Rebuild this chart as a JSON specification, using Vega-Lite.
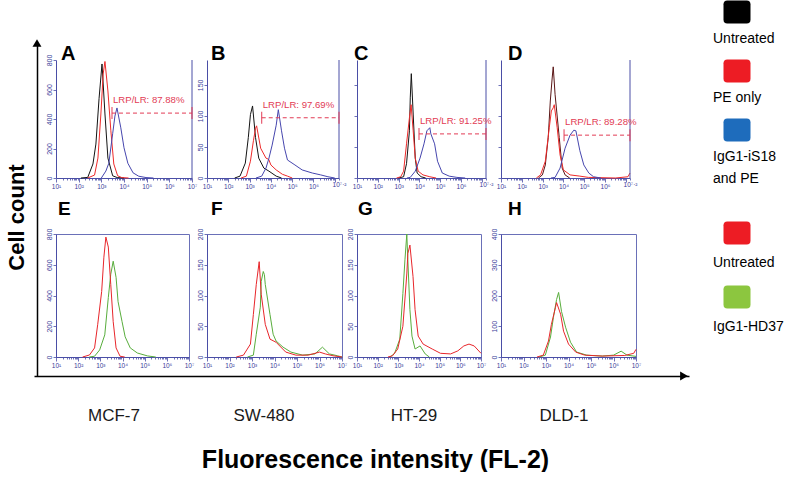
{
  "$schema": "https://vega.github.io/schema/vega-lite/v6.json",
  "background": "white",
  "padding": {"left": 5, "top": 0, "right": 5, "bottom": 0},
  "config": {
    "font": "Liberation Sans",
    "view": {"stroke": null},
    "axis": {"grid": false, "labelColor": "#3a3d9a", "domainColor": "#4a4ea6", "tickColor": "#4a4ea6", "labelFontSize": 7, "tickSize": 3, "labelPadding": 1, "domainWidth": 1, "tickWidth": 0.8, "labelOverlap": false},
    "axisX": {"labelFlush": false, "labelAngle": 0},
    "axisY": {"labelAngle": -90}
  },
  "datasets": {
    "hist": [
      {"panel":"A","series":"Untreated","fl2_log10":2.1,"count":0},{"panel":"A","series":"Untreated","fl2_log10":2.4,"count":4},{"panel":"A","series":"Untreated","fl2_log10":2.63,"count":95},{"panel":"A","series":"Untreated","fl2_log10":2.76,"count":230},{"panel":"A","series":"Untreated","fl2_log10":2.9,"count":540},{"panel":"A","series":"Untreated","fl2_log10":3.03,"count":773},{"panel":"A","series":"Untreated","fl2_log10":3.16,"count":434},{"panel":"A","series":"Untreated","fl2_log10":3.29,"count":135},{"panel":"A","series":"Untreated","fl2_log10":3.5,"count":15},{"panel":"A","series":"Untreated","fl2_log10":3.7,"count":3},{"panel":"A","series":"Untreated","fl2_log10":4.0,"count":0},
      {"panel":"A","series":"PE only","fl2_log10":2.4,"count":0},{"panel":"A","series":"PE only","fl2_log10":2.7,"count":20},{"panel":"A","series":"PE only","fl2_log10":2.85,"count":135},{"panel":"A","series":"PE only","fl2_log10":2.98,"count":434},{"panel":"A","series":"PE only","fl2_log10":3.08,"count":705},{"panel":"A","series":"PE only","fl2_log10":3.16,"count":790},{"panel":"A","series":"PE only","fl2_log10":3.29,"count":590},{"panel":"A","series":"PE only","fl2_log10":3.42,"count":320},{"panel":"A","series":"PE only","fl2_log10":3.55,"count":95},{"panel":"A","series":"PE only","fl2_log10":3.72,"count":15},{"panel":"A","series":"PE only","fl2_log10":3.9,"count":3},{"panel":"A","series":"PE only","fl2_log10":4.2,"count":0},
      {"panel":"A","series":"IgG1-iS18 and PE","fl2_log10":3.0,"count":0},{"panel":"A","series":"IgG1-iS18 and PE","fl2_log10":3.2,"count":47},{"panel":"A","series":"IgG1-iS18 and PE","fl2_log10":3.33,"count":100},{"panel":"A","series":"IgG1-iS18 and PE","fl2_log10":3.5,"count":300},{"panel":"A","series":"IgG1-iS18 and PE","fl2_log10":3.6,"count":420},{"panel":"A","series":"IgG1-iS18 and PE","fl2_log10":3.69,"count":475},{"panel":"A","series":"IgG1-iS18 and PE","fl2_log10":3.86,"count":340},{"panel":"A","series":"IgG1-iS18 and PE","fl2_log10":4.0,"count":205},{"panel":"A","series":"IgG1-iS18 and PE","fl2_log10":4.17,"count":100},{"panel":"A","series":"IgG1-iS18 and PE","fl2_log10":4.4,"count":35},{"panel":"A","series":"IgG1-iS18 and PE","fl2_log10":4.65,"count":12},{"panel":"A","series":"IgG1-iS18 and PE","fl2_log10":4.97,"count":3},{"panel":"A","series":"IgG1-iS18 and PE","fl2_log10":5.3,"count":0},
      {"panel":"B","series":"Untreated","fl2_log10":2.3,"count":0},{"panel":"B","series":"Untreated","fl2_log10":2.55,"count":3},{"panel":"B","series":"Untreated","fl2_log10":2.8,"count":24},{"panel":"B","series":"Untreated","fl2_log10":2.94,"count":65},{"panel":"B","series":"Untreated","fl2_log10":3.04,"count":102},{"panel":"B","series":"Untreated","fl2_log10":3.14,"count":116},{"panel":"B","series":"Untreated","fl2_log10":3.28,"count":65},{"panel":"B","series":"Untreated","fl2_log10":3.43,"count":32},{"panel":"B","series":"Untreated","fl2_log10":3.67,"count":16},{"panel":"B","series":"Untreated","fl2_log10":3.91,"count":11},{"panel":"B","series":"Untreated","fl2_log10":4.25,"count":3},{"panel":"B","series":"Untreated","fl2_log10":4.5,"count":0},
      {"panel":"B","series":"PE only","fl2_log10":2.6,"count":0},{"panel":"B","series":"PE only","fl2_log10":2.85,"count":3},{"panel":"B","series":"PE only","fl2_log10":3.04,"count":27},{"panel":"B","series":"PE only","fl2_log10":3.18,"count":60},{"panel":"B","series":"PE only","fl2_log10":3.28,"count":80},{"panel":"B","series":"PE only","fl2_log10":3.33,"count":84},{"panel":"B","series":"PE only","fl2_log10":3.52,"count":48},{"panel":"B","series":"PE only","fl2_log10":3.77,"count":32},{"panel":"B","series":"PE only","fl2_log10":3.9,"count":30},{"panel":"B","series":"PE only","fl2_log10":4.0,"count":21},{"panel":"B","series":"PE only","fl2_log10":4.25,"count":13},{"panel":"B","series":"PE only","fl2_log10":4.54,"count":6},{"panel":"B","series":"PE only","fl2_log10":4.78,"count":3},{"panel":"B","series":"PE only","fl2_log10":5.0,"count":0},
      {"panel":"B","series":"IgG1-iS18 and PE","fl2_log10":3.3,"count":0},{"panel":"B","series":"IgG1-iS18 and PE","fl2_log10":3.57,"count":3},{"panel":"B","series":"IgG1-iS18 and PE","fl2_log10":3.77,"count":16},{"panel":"B","series":"IgG1-iS18 and PE","fl2_log10":3.91,"count":32},{"panel":"B","series":"IgG1-iS18 and PE","fl2_log10":4.06,"count":53},{"panel":"B","series":"IgG1-iS18 and PE","fl2_log10":4.25,"count":85},{"panel":"B","series":"IgG1-iS18 and PE","fl2_log10":4.35,"count":110},{"panel":"B","series":"IgG1-iS18 and PE","fl2_log10":4.5,"count":76},{"panel":"B","series":"IgG1-iS18 and PE","fl2_log10":4.64,"count":48},{"panel":"B","series":"IgG1-iS18 and PE","fl2_log10":4.78,"count":29},{"panel":"B","series":"IgG1-iS18 and PE","fl2_log10":5.13,"count":21},{"panel":"B","series":"IgG1-iS18 and PE","fl2_log10":5.47,"count":13},{"panel":"B","series":"IgG1-iS18 and PE","fl2_log10":5.95,"count":8},{"panel":"B","series":"IgG1-iS18 and PE","fl2_log10":6.34,"count":5},{"panel":"B","series":"IgG1-iS18 and PE","fl2_log10":6.68,"count":2},{"panel":"B","series":"IgG1-iS18 and PE","fl2_log10":7.0,"count":0},
      {"panel":"C","series":"Untreated","fl2_log10":3.0,"count":0},{"panel":"C","series":"Untreated","fl2_log10":3.24,"count":2},{"panel":"C","series":"Untreated","fl2_log10":3.38,"count":23},{"panel":"C","series":"Untreated","fl2_log10":3.52,"count":76},{"panel":"C","series":"Untreated","fl2_log10":3.56,"count":129},{"panel":"C","series":"Untreated","fl2_log10":3.61,"count":168},{"panel":"C","series":"Untreated","fl2_log10":3.7,"count":103},{"panel":"C","series":"Untreated","fl2_log10":3.8,"count":32},{"panel":"C","series":"Untreated","fl2_log10":3.89,"count":8},{"panel":"C","series":"Untreated","fl2_log10":4.08,"count":2},{"panel":"C","series":"Untreated","fl2_log10":4.3,"count":0},
      {"panel":"C","series":"PE only","fl2_log10":2.9,"count":0},{"panel":"C","series":"PE only","fl2_log10":3.1,"count":2},{"panel":"C","series":"PE only","fl2_log10":3.24,"count":11},{"panel":"C","series":"PE only","fl2_log10":3.38,"count":55},{"panel":"C","series":"PE only","fl2_log10":3.52,"count":97},{"panel":"C","series":"PE only","fl2_log10":3.6,"count":118},{"panel":"C","series":"PE only","fl2_log10":3.7,"count":76},{"panel":"C","series":"PE only","fl2_log10":3.8,"count":32},{"panel":"C","series":"PE only","fl2_log10":3.94,"count":11},{"panel":"C","series":"PE only","fl2_log10":4.17,"count":5},{"panel":"C","series":"PE only","fl2_log10":4.5,"count":2},{"panel":"C","series":"PE only","fl2_log10":4.8,"count":0},
      {"panel":"C","series":"IgG1-iS18 and PE","fl2_log10":3.4,"count":0},{"panel":"C","series":"IgG1-iS18 and PE","fl2_log10":3.56,"count":1},{"panel":"C","series":"IgG1-iS18 and PE","fl2_log10":3.8,"count":11},{"panel":"C","series":"IgG1-iS18 and PE","fl2_log10":4.03,"count":32},{"panel":"C","series":"IgG1-iS18 and PE","fl2_log10":4.22,"count":55},{"panel":"C","series":"IgG1-iS18 and PE","fl2_log10":4.36,"count":76},{"panel":"C","series":"IgG1-iS18 and PE","fl2_log10":4.5,"count":81},{"panel":"C","series":"IgG1-iS18 and PE","fl2_log10":4.55,"count":71},{"panel":"C","series":"IgG1-iS18 and PE","fl2_log10":4.73,"count":55},{"panel":"C","series":"IgG1-iS18 and PE","fl2_log10":4.87,"count":27},{"panel":"C","series":"IgG1-iS18 and PE","fl2_log10":5.1,"count":8},{"panel":"C","series":"IgG1-iS18 and PE","fl2_log10":5.43,"count":3},{"panel":"C","series":"IgG1-iS18 and PE","fl2_log10":5.8,"count":1},{"panel":"C","series":"IgG1-iS18 and PE","fl2_log10":6.2,"count":0},
      {"panel":"D","series":"Untreated","fl2_log10":2.8,"count":0},{"panel":"D","series":"Untreated","fl2_log10":2.99,"count":5},{"panel":"D","series":"Untreated","fl2_log10":3.13,"count":21},{"panel":"D","series":"Untreated","fl2_log10":3.27,"count":65},{"panel":"D","series":"Untreated","fl2_log10":3.37,"count":124},{"panel":"D","series":"Untreated","fl2_log10":3.46,"count":161},{"panel":"D","series":"Untreated","fl2_log10":3.51,"count":179},{"panel":"D","series":"Untreated","fl2_log10":3.6,"count":134},{"panel":"D","series":"Untreated","fl2_log10":3.8,"count":65},{"panel":"D","series":"Untreated","fl2_log10":3.94,"count":16},{"panel":"D","series":"Untreated","fl2_log10":4.08,"count":5},{"panel":"D","series":"Untreated","fl2_log10":4.3,"count":0},
      {"panel":"D","series":"PE only","fl2_log10":2.7,"count":0},{"panel":"D","series":"PE only","fl2_log10":2.9,"count":5},{"panel":"D","series":"PE only","fl2_log10":3.13,"count":27},{"panel":"D","series":"PE only","fl2_log10":3.32,"count":81},{"panel":"D","series":"PE only","fl2_log10":3.42,"count":108},{"panel":"D","series":"PE only","fl2_log10":3.51,"count":113},{"panel":"D","series":"PE only","fl2_log10":3.56,"count":118},{"panel":"D","series":"PE only","fl2_log10":3.7,"count":81},{"panel":"D","series":"PE only","fl2_log10":3.84,"count":37},{"panel":"D","series":"PE only","fl2_log10":4.0,"count":13},{"panel":"D","series":"PE only","fl2_log10":4.32,"count":5},{"panel":"D","series":"PE only","fl2_log10":4.79,"count":3},{"panel":"D","series":"PE only","fl2_log10":5.2,"count":1},{"panel":"D","series":"PE only","fl2_log10":6.5,"count":0},{"panel":"D","series":"PE only","fl2_log10":7.1,"count":2},{"panel":"D","series":"PE only","fl2_log10":7.2,"count":8},
      {"panel":"D","series":"IgG1-iS18 and PE","fl2_log10":3.4,"count":0},{"panel":"D","series":"IgG1-iS18 and PE","fl2_log10":3.6,"count":1},{"panel":"D","series":"IgG1-iS18 and PE","fl2_log10":3.84,"count":16},{"panel":"D","series":"IgG1-iS18 and PE","fl2_log10":4.08,"count":48},{"panel":"D","series":"IgG1-iS18 and PE","fl2_log10":4.32,"count":69},{"panel":"D","series":"IgG1-iS18 and PE","fl2_log10":4.5,"count":77},{"panel":"D","series":"IgG1-iS18 and PE","fl2_log10":4.6,"count":76},{"panel":"D","series":"IgG1-iS18 and PE","fl2_log10":4.79,"count":44},{"panel":"D","series":"IgG1-iS18 and PE","fl2_log10":4.98,"count":21},{"panel":"D","series":"IgG1-iS18 and PE","fl2_log10":5.22,"count":8},{"panel":"D","series":"IgG1-iS18 and PE","fl2_log10":5.45,"count":2},{"panel":"D","series":"IgG1-iS18 and PE","fl2_log10":5.8,"count":0},
      {"panel":"E","series":"IgG1-HD37","fl2_log10":2.5,"count":0},{"panel":"E","series":"IgG1-HD37","fl2_log10":2.74,"count":5},{"panel":"E","series":"IgG1-HD37","fl2_log10":2.97,"count":46},{"panel":"E","series":"IgG1-HD37","fl2_log10":3.2,"count":144},{"panel":"E","series":"IgG1-HD37","fl2_log10":3.36,"count":387},{"panel":"E","series":"IgG1-HD37","fl2_log10":3.47,"count":538},{"panel":"E","series":"IgG1-HD37","fl2_log10":3.58,"count":623},{"panel":"E","series":"IgG1-HD37","fl2_log10":3.71,"count":518},{"panel":"E","series":"IgG1-HD37","fl2_log10":3.8,"count":360},{"panel":"E","series":"IgG1-HD37","fl2_log10":3.98,"count":230},{"panel":"E","series":"IgG1-HD37","fl2_log10":4.12,"count":131},{"panel":"E","series":"IgG1-HD37","fl2_log10":4.35,"count":59},{"panel":"E","series":"IgG1-HD37","fl2_log10":4.67,"count":26},{"panel":"E","series":"IgG1-HD37","fl2_log10":5.13,"count":7},{"panel":"E","series":"IgG1-HD37","fl2_log10":5.5,"count":0},
      {"panel":"E","series":"Untreated (E-H)","fl2_log10":2.2,"count":0},{"panel":"E","series":"Untreated (E-H)","fl2_log10":2.51,"count":13},{"panel":"E","series":"Untreated (E-H)","fl2_log10":2.74,"count":59},{"panel":"E","series":"Untreated (E-H)","fl2_log10":2.88,"count":210},{"panel":"E","series":"Untreated (E-H)","fl2_log10":3.06,"count":426},{"panel":"E","series":"Untreated (E-H)","fl2_log10":3.16,"count":649},{"panel":"E","series":"Untreated (E-H)","fl2_log10":3.25,"count":780},{"panel":"E","series":"Untreated (E-H)","fl2_log10":3.36,"count":715},{"panel":"E","series":"Untreated (E-H)","fl2_log10":3.47,"count":472},{"panel":"E","series":"Untreated (E-H)","fl2_log10":3.58,"count":230},{"panel":"E","series":"Untreated (E-H)","fl2_log10":3.71,"count":59},{"panel":"E","series":"Untreated (E-H)","fl2_log10":3.89,"count":5},{"panel":"E","series":"Untreated (E-H)","fl2_log10":4.1,"count":0},
      {"panel":"F","series":"IgG1-HD37","fl2_log10":2.8,"count":0},{"panel":"F","series":"IgG1-HD37","fl2_log10":3.06,"count":3},{"panel":"F","series":"IgG1-HD37","fl2_log10":3.19,"count":37},{"panel":"F","series":"IgG1-HD37","fl2_log10":3.37,"count":81},{"panel":"F","series":"IgG1-HD37","fl2_log10":3.41,"count":123},{"panel":"F","series":"IgG1-HD37","fl2_log10":3.5,"count":139},{"panel":"F","series":"IgG1-HD37","fl2_log10":3.55,"count":134},{"panel":"F","series":"IgG1-HD37","fl2_log10":3.59,"count":118},{"panel":"F","series":"IgG1-HD37","fl2_log10":3.8,"count":69},{"panel":"F","series":"IgG1-HD37","fl2_log10":3.94,"count":37},{"panel":"F","series":"IgG1-HD37","fl2_log10":4.07,"count":26},{"panel":"F","series":"IgG1-HD37","fl2_log10":4.38,"count":16},{"panel":"F","series":"IgG1-HD37","fl2_log10":4.73,"count":8},{"panel":"F","series":"IgG1-HD37","fl2_log10":5.25,"count":3},{"panel":"F","series":"IgG1-HD37","fl2_log10":5.8,"count":5},{"panel":"F","series":"IgG1-HD37","fl2_log10":6.13,"count":16},{"panel":"F","series":"IgG1-HD37","fl2_log10":6.44,"count":5},{"panel":"F","series":"IgG1-HD37","fl2_log10":6.8,"count":2},{"panel":"F","series":"IgG1-HD37","fl2_log10":7.0,"count":0},
      {"panel":"F","series":"Untreated (E-H)","fl2_log10":2.3,"count":0},{"panel":"F","series":"Untreated (E-H)","fl2_log10":2.62,"count":3},{"panel":"F","series":"Untreated (E-H)","fl2_log10":2.93,"count":21},{"panel":"F","series":"Untreated (E-H)","fl2_log10":3.06,"count":69},{"panel":"F","series":"Untreated (E-H)","fl2_log10":3.19,"count":118},{"panel":"F","series":"Untreated (E-H)","fl2_log10":3.32,"count":155},{"panel":"F","series":"Untreated (E-H)","fl2_log10":3.41,"count":102},{"panel":"F","series":"Untreated (E-H)","fl2_log10":3.59,"count":53},{"panel":"F","series":"Untreated (E-H)","fl2_log10":3.8,"count":29},{"panel":"F","series":"Untreated (E-H)","fl2_log10":4.07,"count":24},{"panel":"F","series":"Untreated (E-H)","fl2_log10":4.5,"count":8},{"panel":"F","series":"Untreated (E-H)","fl2_log10":4.95,"count":3},{"panel":"F","series":"Untreated (E-H)","fl2_log10":5.5,"count":3},{"panel":"F","series":"Untreated (E-H)","fl2_log10":6.0,"count":8},{"panel":"F","series":"Untreated (E-H)","fl2_log10":6.26,"count":5},{"panel":"F","series":"Untreated (E-H)","fl2_log10":6.6,"count":2},{"panel":"F","series":"Untreated (E-H)","fl2_log10":7.0,"count":0},
      {"panel":"G","series":"IgG1-HD37","fl2_log10":2.6,"count":0},{"panel":"G","series":"IgG1-HD37","fl2_log10":2.82,"count":6},{"panel":"G","series":"IgG1-HD37","fl2_log10":3.07,"count":29},{"panel":"G","series":"IgG1-HD37","fl2_log10":3.22,"count":103},{"panel":"G","series":"IgG1-HD37","fl2_log10":3.32,"count":158},{"panel":"G","series":"IgG1-HD37","fl2_log10":3.41,"count":200},{"panel":"G","series":"IgG1-HD37","fl2_log10":3.46,"count":158},{"panel":"G","series":"IgG1-HD37","fl2_log10":3.56,"count":77},{"panel":"G","series":"IgG1-HD37","fl2_log10":3.66,"count":34},{"panel":"G","series":"IgG1-HD37","fl2_log10":3.81,"count":13},{"panel":"G","series":"IgG1-HD37","fl2_log10":4.05,"count":18},{"panel":"G","series":"IgG1-HD37","fl2_log10":4.3,"count":5},{"panel":"G","series":"IgG1-HD37","fl2_log10":4.5,"count":0},
      {"panel":"G","series":"Untreated (E-H)","fl2_log10":2.5,"count":0},{"panel":"G","series":"Untreated (E-H)","fl2_log10":2.72,"count":2},{"panel":"G","series":"Untreated (E-H)","fl2_log10":2.97,"count":13},{"panel":"G","series":"Untreated (E-H)","fl2_log10":3.22,"count":50},{"panel":"G","series":"Untreated (E-H)","fl2_log10":3.41,"count":135},{"panel":"G","series":"Untreated (E-H)","fl2_log10":3.46,"count":168},{"panel":"G","series":"Untreated (E-H)","fl2_log10":3.56,"count":182},{"panel":"G","series":"Untreated (E-H)","fl2_log10":3.71,"count":131},{"panel":"G","series":"Untreated (E-H)","fl2_log10":3.81,"count":77},{"panel":"G","series":"Untreated (E-H)","fl2_log10":3.96,"count":34},{"panel":"G","series":"Untreated (E-H)","fl2_log10":4.2,"count":21},{"panel":"G","series":"Untreated (E-H)","fl2_log10":4.64,"count":13},{"panel":"G","series":"Untreated (E-H)","fl2_log10":5.04,"count":6},{"panel":"G","series":"Untreated (E-H)","fl2_log10":5.53,"count":5},{"panel":"G","series":"Untreated (E-H)","fl2_log10":5.88,"count":10},{"panel":"G","series":"Untreated (E-H)","fl2_log10":6.17,"count":18},{"panel":"G","series":"Untreated (E-H)","fl2_log10":6.42,"count":21},{"panel":"G","series":"Untreated (E-H)","fl2_log10":6.67,"count":18},{"panel":"G","series":"Untreated (E-H)","fl2_log10":7.0,"count":6},
      {"panel":"H","series":"IgG1-HD37","fl2_log10":2.7,"count":0},{"panel":"H","series":"IgG1-HD37","fl2_log10":2.97,"count":6},{"panel":"H","series":"IgG1-HD37","fl2_log10":3.2,"count":65},{"panel":"H","series":"IgG1-HD37","fl2_log10":3.33,"count":129},{"panel":"H","series":"IgG1-HD37","fl2_log10":3.47,"count":187},{"panel":"H","series":"IgG1-HD37","fl2_log10":3.56,"count":210},{"panel":"H","series":"IgG1-HD37","fl2_log10":3.69,"count":148},{"panel":"H","series":"IgG1-HD37","fl2_log10":3.87,"count":97},{"panel":"H","series":"IgG1-HD37","fl2_log10":4.09,"count":48},{"panel":"H","series":"IgG1-HD37","fl2_log10":4.36,"count":16},{"panel":"H","series":"IgG1-HD37","fl2_log10":4.81,"count":6},{"panel":"H","series":"IgG1-HD37","fl2_log10":5.5,"count":3},{"panel":"H","series":"IgG1-HD37","fl2_log10":6.0,"count":6},{"panel":"H","series":"IgG1-HD37","fl2_log10":6.34,"count":19},{"panel":"H","series":"IgG1-HD37","fl2_log10":6.6,"count":6},{"panel":"H","series":"IgG1-HD37","fl2_log10":7.0,"count":2},
      {"panel":"H","series":"Untreated (E-H)","fl2_log10":2.6,"count":0},{"panel":"H","series":"Untreated (E-H)","fl2_log10":2.88,"count":6},{"panel":"H","series":"Untreated (E-H)","fl2_log10":3.11,"count":52},{"panel":"H","series":"Untreated (E-H)","fl2_log10":3.24,"count":106},{"panel":"H","series":"Untreated (E-H)","fl2_log10":3.42,"count":161},{"panel":"H","series":"Untreated (E-H)","fl2_log10":3.47,"count":177},{"panel":"H","series":"Untreated (E-H)","fl2_log10":3.65,"count":139},{"panel":"H","series":"Untreated (E-H)","fl2_log10":3.78,"count":84},{"panel":"H","series":"Untreated (E-H)","fl2_log10":4.0,"count":42},{"panel":"H","series":"Untreated (E-H)","fl2_log10":4.32,"count":16},{"panel":"H","series":"Untreated (E-H)","fl2_log10":4.72,"count":6},{"panel":"H","series":"Untreated (E-H)","fl2_log10":5.5,"count":3},{"panel":"H","series":"Untreated (E-H)","fl2_log10":6.5,"count":5},{"panel":"H","series":"Untreated (E-H)","fl2_log10":6.9,"count":12},{"panel":"H","series":"Untreated (E-H)","fl2_log10":7.0,"count":25}
    ],
    "gates": [
      {"panel":"A","end":"start","fl2_log10":3.47,"count":440,"label":"LRP/LR: 87.88%"},{"panel":"A","end":"end","fl2_log10":7,"count":440},
      {"panel":"B","end":"start","fl2_log10":3.57,"count":97,"label":"LRP/LR: 97.69%"},{"panel":"B","end":"end","fl2_log10":7.2,"count":97},
      {"panel":"C","end":"start","fl2_log10":3.98,"count":71,"label":"LRP/LR: 91.25%"},{"panel":"C","end":"end","fl2_log10":7.2,"count":71},
      {"panel":"D","end":"start","fl2_log10":4.03,"count":69,"label":"LRP/LR: 89.28%"},{"panel":"D","end":"end","fl2_log10":7.2,"count":69}
    ],
    "cells": [{"cell_line":"MCF-7","panels":"A, E"},{"cell_line":"SW-480","panels":"B, F"},{"cell_line":"HT-29","panels":"C, G"},{"cell_line":"DLD-1","panels":"D, H"}],
    "legend": [
      {"group":"top","series":"Untreated","label":"Untreated"},
      {"group":"top","series":"PE only","label":"PE only"},
      {"group":"top","series":"IgG1-iS18 and PE","label":"IgG1-iS18\nand PE"},
      {"group":"bottom","series":"Untreated (E-H)","label":"Untreated"},
      {"group":"bottom","series":"IgG1-HD37","label":"IgG1-HD37"}
    ]
  },
  "columns": 6,
  "spacing": {"row": 56, "column": 15},
  "bounds": "flush",
  "align": {"row": "each", "column": "each"},
  "resolve": {"scale": {"color": "independent"}},
  "concat": [
    {
      "width": 1, "height": 118,
      "data": {"values": [{"axis": "Cell count"}]},
      "layer": [
        {"mark": {"type": "point", "shape": "triangle-up", "filled": true, "color": "#000000", "size": 80, "opacity": 1},
         "encoding": {
           "x": {"datum": 0, "type": "quantitative", "scale": {"domain": [0, 1], "range": [-3, 644]}, "axis": null},
           "y": {"datum": 1, "type": "quantitative", "scale": {"domain": [0, 1], "range": [316, -17]}, "axis": {"orient": "left", "offset": 3, "labels": false, "ticks": false, "domainColor": "#000000", "domainWidth": 1.5, "title": "Cell count", "titleFontSize": 22, "titleFontWeight": "bold", "titleColor": "#000000", "titlePadding": 9, "titleY": 157}}}},
        {"mark": {"type": "point", "shape": "triangle-right", "filled": true, "color": "#000000", "size": 80, "opacity": 1},
         "encoding": {
           "x": {"datum": 1, "type": "quantitative", "axis": null},
           "y": {"datum": 0, "type": "quantitative"}}}
      ]
    },
    {
      "width": 136, "height": 118,
      "title": {"text": "A", "anchor": "start", "frame": "group", "fontSize": 20, "fontWeight": "bold", "color": "#000000", "baseline": "alphabetic", "offset": -26, "dx": 5},
      "encoding": {
        "x": {"field": "fl2_log10", "type": "quantitative", "title": null, "scale": {"domain": [1, 7], "nice": false, "zero": false}, "axis": {"values": [1,1.301,1.477,1.602,1.699,1.778,1.845,1.903,1.954,2,2.301,2.477,2.602,2.699,2.778,2.845,2.903,2.954,3,3.301,3.477,3.602,3.699,3.778,3.845,3.903,3.954,4,4.301,4.477,4.602,4.699,4.778,4.845,4.903,4.954,5,5.301,5.477,5.602,5.699,5.778,5.845,5.903,5.954,6,6.301,6.477,6.602,6.699,6.778,6.845,6.903,6.954,7], "labelExpr": "datum.value % 1 === 0 ? '10' + ['','¹','²','³','⁴','⁵','⁶','⁷'][datum.value] : ''", "tickSize": {"condition": {"test": "datum.value % 1 === 0", "value": 4}, "value": 2}, "labelFontSize": 6.5, "labelOverlap": false, "labelFlush": false}},
        "y": {"field": "count", "type": "quantitative", "title": null, "scale": {"domain": [0, 800], "nice": false}, "axis": {"values": [0, 200, 400, 600, 800], "labelOverlap": false}}
      },
      "layer": [
        {"data": {"name": "hist"}, "transform": [{"filter": "datum.panel === 'A'"}], "mark": {"type": "line", "strokeWidth": 1},
         "encoding": {"color": {"field": "series", "type": "nominal", "scale": {"domain": ["Untreated", "PE only", "IgG1-iS18 and PE", "Untreated (E-H)", "IgG1-HD37"], "range": ["#141414", "#ee2a2a", "#4646ae", "#e8262b", "#58ad3c"]}, "legend": null}}},
        {"data": {"name": "gates"}, "transform": [{"filter": "datum.panel === 'A' && datum.end === 'end'"}], "mark": {"type": "rule", "color": "#4a4ea6", "strokeWidth": 1},
         "encoding": {"y": {"datum": 0, "type": "quantitative", "title": null, "axis": {"values": [0, 200, 400, 600, 800], "labelOverlap": false}}, "y2": {"datum": 800}}},
        {"data": {"name": "gates"}, "transform": [{"filter": "datum.panel === 'A'"}], "mark": {"type": "line", "color": "#e23b55", "strokeDash": [4, 3], "strokeWidth": 1}},
        {"data": {"name": "gates"}, "transform": [{"filter": "datum.panel === 'A'"}], "mark": {"type": "tick", "orient": "vertical", "size": 12, "thickness": 1, "color": "#e23b55", "opacity": 1}},
        {"data": {"name": "gates"}, "transform": [{"filter": "datum.panel === 'A' && datum.end === 'start'"}], "mark": {"type": "text", "align": "left", "baseline": "middle", "dx": 1, "dy": -13, "fontSize": 9.6, "color": "#e23b55"}, "encoding": {"text": {"field": "label", "type": "nominal"}}}
      ]
    },
    {
      "width": 132, "height": 118,
      "title": {"text": "B", "anchor": "start", "frame": "group", "fontSize": 20, "fontWeight": "bold", "color": "#000000", "baseline": "alphabetic", "offset": -20, "dx": 4},
      "encoding": {
        "x": {"field": "fl2_log10", "type": "quantitative", "title": null, "scale": {"domain": [1, 7.2], "nice": false, "zero": false}, "axis": {"values": [1,1.301,1.477,1.602,1.699,1.778,1.845,1.903,1.954,2,2.301,2.477,2.602,2.699,2.778,2.845,2.903,2.954,3,3.301,3.477,3.602,3.699,3.778,3.845,3.903,3.954,4,4.301,4.477,4.602,4.699,4.778,4.845,4.903,4.954,5,5.301,5.477,5.602,5.699,5.778,5.845,5.903,5.954,6,6.301,6.477,6.602,6.699,6.778,6.845,6.903,6.954,7,7.2], "labelExpr": "datum.value === 7.2 ? '10⁷·²' : (datum.value % 1 === 0 && datum.value < 7 ? '10' + ['','¹','²','³','⁴','⁵','⁶'][datum.value] : '')", "tickSize": {"condition": {"test": "datum.value % 1 === 0", "value": 4}, "value": 2}, "labelFontSize": 6.5, "labelOverlap": false, "labelFlush": false}},
        "y": {"field": "count", "type": "quantitative", "title": null, "scale": {"domain": [0, 190], "nice": false}, "axis": {"values": [0, 50, 100, 150], "labelOverlap": false}}
      },
      "layer": [
        {"data": {"name": "hist"}, "transform": [{"filter": "datum.panel === 'B'"}], "mark": {"type": "line", "strokeWidth": 1},
         "encoding": {"color": {"field": "series", "type": "nominal", "scale": {"domain": ["Untreated", "PE only", "IgG1-iS18 and PE", "Untreated (E-H)", "IgG1-HD37"], "range": ["#141414", "#ee2a2a", "#4646ae", "#e8262b", "#58ad3c"]}, "legend": null}}},
        {"data": {"name": "gates"}, "transform": [{"filter": "datum.panel === 'B' && datum.end === 'end'"}], "mark": {"type": "rule", "color": "#4a4ea6", "strokeWidth": 1},
         "encoding": {"y": {"datum": 0, "type": "quantitative", "title": null, "axis": {"values": [0, 50, 100, 150], "labelOverlap": false}}, "y2": {"datum": 190}}},
        {"data": {"name": "gates"}, "transform": [{"filter": "datum.panel === 'B'"}], "mark": {"type": "line", "color": "#e23b55", "strokeDash": [4, 3], "strokeWidth": 1}},
        {"data": {"name": "gates"}, "transform": [{"filter": "datum.panel === 'B'"}], "mark": {"type": "tick", "orient": "vertical", "size": 12, "thickness": 1, "color": "#e23b55", "opacity": 1}},
        {"data": {"name": "gates"}, "transform": [{"filter": "datum.panel === 'B' && datum.end === 'start'"}], "mark": {"type": "text", "align": "left", "baseline": "middle", "dx": 1, "dy": -13, "fontSize": 9.6, "color": "#e23b55"}, "encoding": {"text": {"field": "label", "type": "nominal"}}}
      ]
    },
    {
      "width": 129, "height": 118,
      "title": {"text": "C", "anchor": "start", "frame": "group", "fontSize": 20, "fontWeight": "bold", "color": "#000000", "baseline": "alphabetic", "offset": -20, "dx": -3},
      "encoding": {
        "x": {"field": "fl2_log10", "type": "quantitative", "title": null, "scale": {"domain": [1, 7.2], "nice": false, "zero": false}, "axis": {"values": [1,1.301,1.477,1.602,1.699,1.778,1.845,1.903,1.954,2,2.301,2.477,2.602,2.699,2.778,2.845,2.903,2.954,3,3.301,3.477,3.602,3.699,3.778,3.845,3.903,3.954,4,4.301,4.477,4.602,4.699,4.778,4.845,4.903,4.954,5,5.301,5.477,5.602,5.699,5.778,5.845,5.903,5.954,6,6.301,6.477,6.602,6.699,6.778,6.845,6.903,6.954,7,7.2], "labelExpr": "datum.value === 7.2 ? '10⁷·²' : (datum.value % 1 === 0 && datum.value < 7 ? '10' + ['','¹','²','³','⁴','⁵','⁶'][datum.value] : '')", "tickSize": {"condition": {"test": "datum.value % 1 === 0", "value": 4}, "value": 2}, "labelFontSize": 6.5, "labelOverlap": false, "labelFlush": false}},
        "y": {"field": "count", "type": "quantitative", "title": null, "scale": {"domain": [0, 190], "nice": false}, "axis": {"values": [0, 50, 100, 150], "labels": false}}
      },
      "layer": [
        {"data": {"name": "hist"}, "transform": [{"filter": "datum.panel === 'C'"}], "mark": {"type": "line", "strokeWidth": 1},
         "encoding": {"color": {"field": "series", "type": "nominal", "scale": {"domain": ["Untreated", "PE only", "IgG1-iS18 and PE", "Untreated (E-H)", "IgG1-HD37"], "range": ["#141414", "#ee2a2a", "#4646ae", "#e8262b", "#58ad3c"]}, "legend": null}}},
        {"data": {"name": "gates"}, "transform": [{"filter": "datum.panel === 'C' && datum.end === 'end'"}], "mark": {"type": "rule", "color": "#4a4ea6", "strokeWidth": 1},
         "encoding": {"y": {"datum": 0, "type": "quantitative", "title": null, "axis": {"values": [0, 50, 100, 150], "labels": false}}, "y2": {"datum": 190}}},
        {"data": {"name": "gates"}, "transform": [{"filter": "datum.panel === 'C'"}], "mark": {"type": "line", "color": "#e23b55", "strokeDash": [4, 3], "strokeWidth": 1}},
        {"data": {"name": "gates"}, "transform": [{"filter": "datum.panel === 'C'"}], "mark": {"type": "tick", "orient": "vertical", "size": 12, "thickness": 1, "color": "#e23b55", "opacity": 1}},
        {"data": {"name": "gates"}, "transform": [{"filter": "datum.panel === 'C' && datum.end === 'start'"}], "mark": {"type": "text", "align": "left", "baseline": "middle", "dx": 1, "dy": -13, "fontSize": 9.6, "color": "#e23b55"}, "encoding": {"text": {"field": "label", "type": "nominal"}}}
      ]
    },
    {
      "width": 129, "height": 118,
      "title": {"text": "D", "anchor": "start", "frame": "group", "fontSize": 20, "fontWeight": "bold", "color": "#000000", "baseline": "alphabetic", "offset": -20, "dx": 7},
      "encoding": {
        "x": {"field": "fl2_log10", "type": "quantitative", "title": null, "scale": {"domain": [1, 7.2], "nice": false, "zero": false}, "axis": {"values": [1,1.301,1.477,1.602,1.699,1.778,1.845,1.903,1.954,2,2.301,2.477,2.602,2.699,2.778,2.845,2.903,2.954,3,3.301,3.477,3.602,3.699,3.778,3.845,3.903,3.954,4,4.301,4.477,4.602,4.699,4.778,4.845,4.903,4.954,5,5.301,5.477,5.602,5.699,5.778,5.845,5.903,5.954,6,6.301,6.477,6.602,6.699,6.778,6.845,6.903,6.954,7,7.2], "labelExpr": "datum.value === 7.2 ? '10⁷·²' : (datum.value % 1 === 0 && datum.value < 7 ? '10' + ['','¹','²','³','⁴','⁵','⁶'][datum.value] : '')", "tickSize": {"condition": {"test": "datum.value % 1 === 0", "value": 4}, "value": 2}, "labelFontSize": 6.5, "labelOverlap": false, "labelFlush": false}},
        "y": {"field": "count", "type": "quantitative", "title": null, "scale": {"domain": [0, 190], "nice": false}, "axis": {"values": [0, 50, 100, 150], "labels": false}}
      },
      "layer": [
        {"data": {"name": "hist"}, "transform": [{"filter": "datum.panel === 'D'"}], "mark": {"type": "line", "strokeWidth": 1},
         "encoding": {"color": {"field": "series", "type": "nominal", "scale": {"domain": ["Untreated", "PE only", "IgG1-iS18 and PE", "Untreated (E-H)", "IgG1-HD37"], "range": ["#5a1515", "#ee2a2a", "#4646ae", "#e8262b", "#58ad3c"]}, "legend": null}}},
        {"data": {"name": "gates"}, "transform": [{"filter": "datum.panel === 'D' && datum.end === 'end'"}], "mark": {"type": "rule", "color": "#4a4ea6", "strokeWidth": 1},
         "encoding": {"y": {"datum": 0, "type": "quantitative", "title": null, "axis": {"values": [0, 50, 100, 150], "labels": false}}, "y2": {"datum": 190}}},
        {"data": {"name": "gates"}, "transform": [{"filter": "datum.panel === 'D'"}], "mark": {"type": "line", "color": "#e23b55", "strokeDash": [4, 3], "strokeWidth": 1}},
        {"data": {"name": "gates"}, "transform": [{"filter": "datum.panel === 'D'"}], "mark": {"type": "tick", "orient": "vertical", "size": 12, "thickness": 1, "color": "#e23b55", "opacity": 1}},
        {"data": {"name": "gates"}, "transform": [{"filter": "datum.panel === 'D' && datum.end === 'start'"}], "mark": {"type": "text", "align": "left", "baseline": "middle", "dx": 1, "dy": -13, "fontSize": 9.6, "color": "#e23b55"}, "encoding": {"text": {"field": "label", "type": "nominal"}}}
      ]
    },
    {
      "width": 128, "height": 118,
      "data": {"name": "legend"},
      "layer": [
        {"transform": [{"filter": "datum.group === 'top'"}],
         "encoding": {"y": {"field": "label", "type": "ordinal", "sort": null, "scale": {"type": "point", "range": [-48, 70], "padding": 0}, "axis": null}},
         "layer": [
           {"mark": {"type": "point", "shape": "M-0.72,-0.85L0.72,-0.85Q1,-0.85 1,-0.57L1,0.57Q1,0.85 0.72,0.85L-0.72,0.85Q-1,0.85 -1,0.57L-1,-0.57Q-1,-0.85 -0.72,-0.85Z", "filled": true, "size": 729, "opacity": 1, "xOffset": 22},
            "encoding": {"color": {"field": "series", "type": "nominal", "scale": {"domain": ["Untreated", "PE only", "IgG1-iS18 and PE", "Untreated (E-H)", "IgG1-HD37"], "range": ["#000000", "#ed1c24", "#1e6cbc", "#ed1c24", "#8cc63f"]}, "legend": null}}},
           {"mark": {"type": "text", "baseline": "top", "align": "left", "dy": 20, "xOffset": -2, "fontSize": 14, "lineBreak": "\n", "lineHeight": 22, "color": "#000000"},
            "encoding": {"text": {"field": "label", "type": "nominal"}}}
         ]},
        {"transform": [{"filter": "datum.group === 'bottom'"}],
         "encoding": {"y": {"field": "label", "type": "ordinal", "sort": null, "scale": {"type": "point", "range": [173, 237], "padding": 0}, "axis": null}},
         "layer": [
           {"mark": {"type": "point", "shape": "M-0.72,-0.85L0.72,-0.85Q1,-0.85 1,-0.57L1,0.57Q1,0.85 0.72,0.85L-0.72,0.85Q-1,0.85 -1,0.57L-1,-0.57Q-1,-0.85 -0.72,-0.85Z", "filled": true, "size": 729, "opacity": 1, "xOffset": 22},
            "encoding": {"color": {"field": "series", "type": "nominal", "scale": {"domain": ["Untreated", "PE only", "IgG1-iS18 and PE", "Untreated (E-H)", "IgG1-HD37"], "range": ["#000000", "#ed1c24", "#1e6cbc", "#ed1c24", "#8cc63f"]}, "legend": null}}},
           {"mark": {"type": "text", "baseline": "top", "align": "left", "dy": 23, "xOffset": -2, "fontSize": 14, "lineBreak": "\n", "lineHeight": 22, "color": "#000000"},
            "encoding": {"text": {"field": "label", "type": "nominal"}}}
         ]}
      ],
      "resolve": {"scale": {"y": "independent"}}
    },
    {
      "width": 1, "height": 123,
      "data": {"name": "cells"},
      "mark": {"type": "point", "opacity": 0},
      "encoding": {
        "x": {"field": "cell_line", "type": "nominal", "sort": null, "scale": {"type": "band", "range": [-6, 649], "paddingInner": 0, "paddingOuter": 0.1833, "align": 0.09},
              "axis": {"orient": "bottom", "offset": 19, "ticks": false, "labelAngle": 0, "labelFontSize": 17, "labelColor": "#1a1a1a", "labelPadding": 31, "domainColor": "#000000", "domainWidth": 1.5, "title": "Fluorescence intensity (FL-2)", "titleFontSize": 25, "titleFontWeight": "bold", "titleColor": "#000000", "titlePadding": 24, "titleX": 335}}
      }
    },
    {
      "width": 133, "height": 123, "view": {"stroke": "#6a70b8"},
      "title": {"text": "E", "anchor": "start", "frame": "group", "fontSize": 19, "fontWeight": "bold", "color": "#000000", "baseline": "alphabetic", "offset": -6, "dx": 2},
      "data": {"name": "hist"}, "transform": [{"filter": "datum.panel === 'E'"}], "mark": {"type": "line", "strokeWidth": 1},
      "encoding": {
        "x": {"field": "fl2_log10", "type": "quantitative", "title": null, "scale": {"domain": [1, 7], "nice": false, "zero": false}, "axis": {"values": [1,1.301,1.477,1.602,1.699,1.778,1.845,1.903,1.954,2,2.301,2.477,2.602,2.699,2.778,2.845,2.903,2.954,3,3.301,3.477,3.602,3.699,3.778,3.845,3.903,3.954,4,4.301,4.477,4.602,4.699,4.778,4.845,4.903,4.954,5,5.301,5.477,5.602,5.699,5.778,5.845,5.903,5.954,6,6.301,6.477,6.602,6.699,6.778,6.845,6.903,6.954,7], "labelExpr": "datum.value % 1 === 0 ? '10' + ['','¹','²','³','⁴','⁵','⁶','⁷'][datum.value] : ''", "tickSize": {"condition": {"test": "datum.value % 1 === 0", "value": 4}, "value": 2}, "labelFontSize": 6.5}},
        "y": {"field": "count", "type": "quantitative", "title": null, "scale": {"domain": [0, 800], "nice": false}, "axis": {"values": [0, 200, 400, 600, 800]}},
        "color": {"field": "series", "type": "nominal", "scale": {"domain": ["Untreated", "PE only", "IgG1-iS18 and PE", "Untreated (E-H)", "IgG1-HD37"], "range": ["#141414", "#ee2a2a", "#4646ae", "#e8262b", "#58ad3c"]}, "legend": null}
      }
    },
    {
      "width": 135, "height": 123, "view": {"stroke": "#6a70b8"},
      "title": {"text": "F", "anchor": "start", "frame": "group", "fontSize": 19, "fontWeight": "bold", "color": "#000000", "baseline": "alphabetic", "offset": -6, "dx": 4},
      "data": {"name": "hist"}, "transform": [{"filter": "datum.panel === 'F'"}], "mark": {"type": "line", "strokeWidth": 1},
      "encoding": {
        "x": {"field": "fl2_log10", "type": "quantitative", "title": null, "scale": {"domain": [1, 7], "nice": false, "zero": false}, "axis": {"values": [1,1.301,1.477,1.602,1.699,1.778,1.845,1.903,1.954,2,2.301,2.477,2.602,2.699,2.778,2.845,2.903,2.954,3,3.301,3.477,3.602,3.699,3.778,3.845,3.903,3.954,4,4.301,4.477,4.602,4.699,4.778,4.845,4.903,4.954,5,5.301,5.477,5.602,5.699,5.778,5.845,5.903,5.954,6,6.301,6.477,6.602,6.699,6.778,6.845,6.903,6.954,7], "labelExpr": "datum.value % 1 === 0 ? '10' + ['','¹','²','³','⁴','⁵','⁶','⁷'][datum.value] : ''", "tickSize": {"condition": {"test": "datum.value % 1 === 0", "value": 4}, "value": 2}, "labelFontSize": 6.5}},
        "y": {"field": "count", "type": "quantitative", "title": null, "scale": {"domain": [0, 200], "nice": false}, "axis": {"values": [0, 50, 100, 150, 200]}},
        "color": {"field": "series", "type": "nominal", "scale": {"domain": ["Untreated", "PE only", "IgG1-iS18 and PE", "Untreated (E-H)", "IgG1-HD37"], "range": ["#141414", "#ee2a2a", "#4646ae", "#e8262b", "#58ad3c"]}, "legend": null}
      }
    },
    {
      "width": 124, "height": 123, "view": {"stroke": "#6a70b8"},
      "title": {"text": "G", "anchor": "start", "frame": "group", "fontSize": 19, "fontWeight": "bold", "color": "#000000", "baseline": "alphabetic", "offset": -6, "dx": 1},
      "data": {"name": "hist"}, "transform": [{"filter": "datum.panel === 'G'"}], "mark": {"type": "line", "strokeWidth": 1},
      "encoding": {
        "x": {"field": "fl2_log10", "type": "quantitative", "title": null, "scale": {"domain": [1, 7], "nice": false, "zero": false}, "axis": {"values": [1,1.301,1.477,1.602,1.699,1.778,1.845,1.903,1.954,2,2.301,2.477,2.602,2.699,2.778,2.845,2.903,2.954,3,3.301,3.477,3.602,3.699,3.778,3.845,3.903,3.954,4,4.301,4.477,4.602,4.699,4.778,4.845,4.903,4.954,5,5.301,5.477,5.602,5.699,5.778,5.845,5.903,5.954,6,6.301,6.477,6.602,6.699,6.778,6.845,6.903,6.954,7], "labelExpr": "datum.value % 1 === 0 ? '10' + ['','¹','²','³','⁴','⁵','⁶','⁷'][datum.value] : ''", "tickSize": {"condition": {"test": "datum.value % 1 === 0", "value": 4}, "value": 2}, "labelFontSize": 6.5}},
        "y": {"field": "count", "type": "quantitative", "title": null, "scale": {"domain": [0, 200], "nice": false}, "axis": {"values": [0, 50, 100, 150, 200]}},
        "color": {"field": "series", "type": "nominal", "scale": {"domain": ["Untreated", "PE only", "IgG1-iS18 and PE", "Untreated (E-H)", "IgG1-HD37"], "range": ["#141414", "#ee2a2a", "#4646ae", "#e8262b", "#58ad3c"]}, "legend": null}
      }
    },
    {
      "width": 135, "height": 123, "view": {"stroke": "#6a70b8"},
      "title": {"text": "H", "anchor": "start", "frame": "group", "fontSize": 19, "fontWeight": "bold", "color": "#000000", "baseline": "alphabetic", "offset": -6, "dx": 7},
      "data": {"name": "hist"}, "transform": [{"filter": "datum.panel === 'H'"}], "mark": {"type": "line", "strokeWidth": 1},
      "encoding": {
        "x": {"field": "fl2_log10", "type": "quantitative", "title": null, "scale": {"domain": [1, 7], "nice": false, "zero": false}, "axis": {"values": [1,1.301,1.477,1.602,1.699,1.778,1.845,1.903,1.954,2,2.301,2.477,2.602,2.699,2.778,2.845,2.903,2.954,3,3.301,3.477,3.602,3.699,3.778,3.845,3.903,3.954,4,4.301,4.477,4.602,4.699,4.778,4.845,4.903,4.954,5,5.301,5.477,5.602,5.699,5.778,5.845,5.903,5.954,6,6.301,6.477,6.602,6.699,6.778,6.845,6.903,6.954,7], "labelExpr": "datum.value % 1 === 0 ? '10' + ['','¹','²','³','⁴','⁵','⁶','⁷'][datum.value] : ''", "tickSize": {"condition": {"test": "datum.value % 1 === 0", "value": 4}, "value": 2}, "labelFontSize": 6.5}},
        "y": {"field": "count", "type": "quantitative", "title": null, "scale": {"domain": [0, 400], "nice": false}, "axis": {"values": [0, 100, 200, 300, 400]}},
        "color": {"field": "series", "type": "nominal", "scale": {"domain": ["Untreated", "PE only", "IgG1-iS18 and PE", "Untreated (E-H)", "IgG1-HD37"], "range": ["#141414", "#ee2a2a", "#4646ae", "#e8262b", "#58ad3c"]}, "legend": null}
      }
    }
  ]
}
